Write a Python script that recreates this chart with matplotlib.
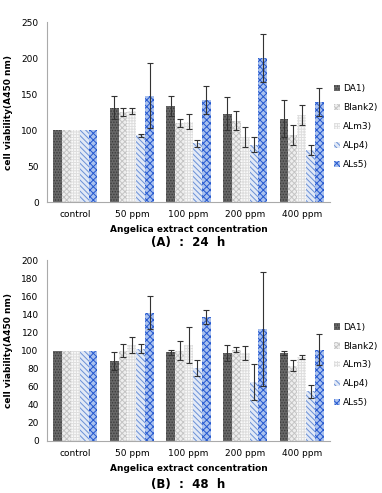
import matplotlib.pyplot as plt
import numpy as np

plt.rcParams['hatch.linewidth'] = 0.7

groups = ["control", "50 ppm", "100 ppm", "200 ppm", "400 ppm"]
series = ["DA1)", "Blank2)", "ALm3)", "ALp4)", "ALs5)"]

# 24 h values and errors, rows = series, cols = groups
val24 = [[100, 131, 133, 123, 116],
         [100, 125, 110, 113, 93],
         [100, 127, 112, 91, 121],
         [100, 93, 82, 80, 73],
         [100, 148, 142, 200, 139]]
err24 = [[0, 16, 14, 23, 26],
         [0, 6, 5, 13, 14],
         [0, 4, 11, 14, 14],
         [0, 2, 5, 10, 7],
         [0, 45, 20, 33, 20]]

# 48 h
val48 = [[100, 88, 98, 97, 97],
         [100, 100, 100, 101, 83],
         [100, 106, 106, 97, 93],
         [100, 102, 81, 65, 55],
         [100, 142, 137, 124, 101]]
err48 = [[0, 10, 3, 9, 2],
         [0, 7, 10, 3, 6],
         [0, 9, 20, 8, 2],
         [0, 5, 9, 20, 7],
         [0, 18, 8, 63, 17]]

# face, hatch colour, hatch
styles = [("#686868", "#3c3c3c", "......"),
          ("#eeeeee", "#c4c4c4", "xxxxxx"),
          ("#fafafa", "#dedede", "++++++"),
          ("#e2e9f6", "#6a90d6", "\\\\\\\\\\\\"),
          ("#a9c1ee", "#2458d0", "xxxxx")]


def draw(ax, vals, errs, ymax, step, caption, cap_y):
    x = np.arange(len(groups))
    w = 0.156
    for i in range(len(series)):
        fc, hc, h = styles[i]
        pos = x + (i - 2) * w
        ax.bar(pos, vals[i], w, color=fc, edgecolor=hc, hatch=h, linewidth=0,
               label=series[i])
        e = np.array(errs[i])
        m = e > 0
        ax.errorbar(pos[m], np.array(vals[i])[m], yerr=e[m], fmt="none",
                    ecolor="#333333", elinewidth=0.8, capsize=2, capthick=0.8)
    ax.set_xlim(-0.5, 4.5)
    ax.set_ylim(0, ymax)
    ax.set_yticks(np.arange(0, ymax + 1, step))
    ax.set_xticks(x)
    ax.set_xticklabels(groups, fontsize=6.5)
    ax.tick_params(axis="y", labelsize=6.5, length=0, pad=6)
    ax.tick_params(axis="x", length=0, pad=6)
    for s in ["top", "right"]:
        ax.spines[s].set_visible(False)
    for s in ["left", "bottom"]:
        ax.spines[s].set_color("#aaaaaa")
        ax.spines[s].set_linewidth(0.8)
    ax.set_ylabel("cell viability(A450 nm)", fontsize=6.5, fontweight="bold", labelpad=6)
    ax.set_xlabel("Angelica extract concentration", fontsize=6.5, fontweight="bold", labelpad=4)
    ax.legend(loc="center left", bbox_to_anchor=(0.985, 0.42), frameon=False,
              fontsize=6.5, handlelength=0.7, handleheight=0.7, handletextpad=0.3,
              labelspacing=1.1)
    ax.text(0.5, cap_y, caption, transform=ax.transAxes, ha="center", va="center",
            fontsize=8.5, fontweight="bold")


fig = plt.figure(figsize=(3.82, 4.93), dpi=100)
ax1 = fig.add_axes([0.123, 0.590, 0.741, 0.365])
ax2 = fig.add_axes([0.123, 0.1055, 0.741, 0.367])
draw(ax1, val24, err24, 250, 50, "(A)  :  24  h", -0.222)
draw(ax2, val48, err48, 200, 20, "(B)  :  48  h", -0.238)
fig.savefig("out.png", dpi=100)
